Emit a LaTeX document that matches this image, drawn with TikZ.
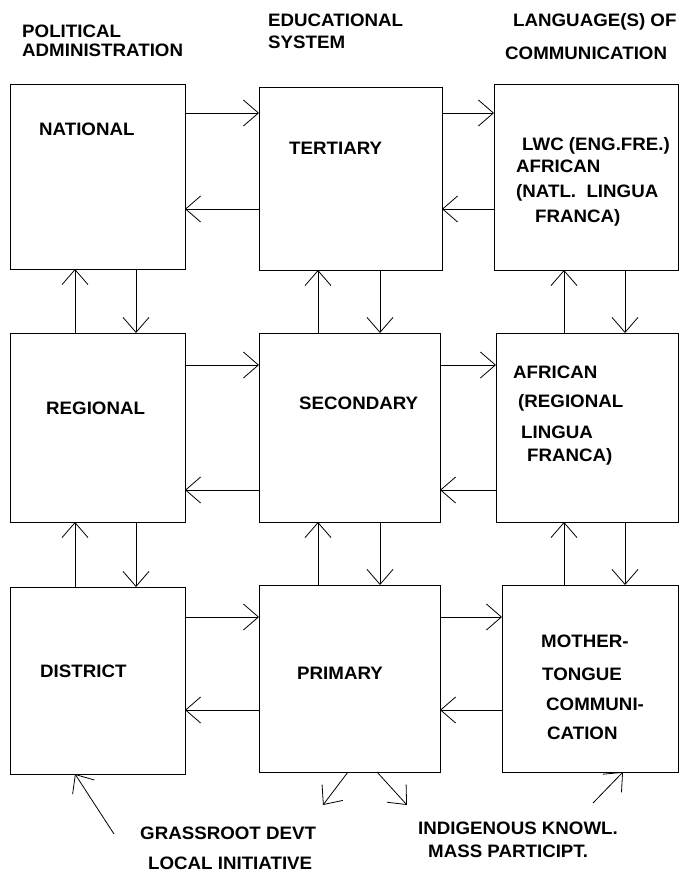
\documentclass[tikz,border=0pt]{standalone}
\usepackage{fontspec}
\newfontfamily\lblfont{Liberation Sans}[FakeStretch=1.04]
\usetikzlibrary{arrows.meta}
\begin{document}
\begin{tikzpicture}[x=1pt,y=-1pt,
  box/.style={draw, line width=0.9pt, inner sep=0pt, outer sep=0pt, anchor=north west},
  lbl/.style={inner sep=0pt, anchor=base west, font=\lblfont\bfseries\fontsize{18}{21}\selectfont},
  arr/.style={line width=0.8pt, -{Straight Barb[length=15pt,width=26pt,line width=0.8pt]}}]
\useasboundingbox (0,0) rectangle (688,878);
    \newcommand{\myBox}[5]{
        \node[box, minimum width=#4pt, minimum height=#5pt] (#1) at (#2,#3) {};
    }
% headers
\node[lbl] (polA) at (22,37) {POLITICAL};
\node[lbl] (polB) at (22,56) {ADMINISTRATION};
\node[lbl] (eduA) at (268,26) {EDUCATIONAL};
\node[lbl] (eduB) at (268,48) {SYSTEM};
\node[lbl] (lanA) at (513,27) {LANGUAGE(S) OF};
\node[lbl] (lanB) at (505,59) {COMMUNICATION};
% boxes
\myBox{nat}{10}{84}{175}{185}
\myBox{ter}{259}{87}{183}{183}
\myBox{lng}{494}{84}{184}{186}
\myBox{reg}{10}{333}{175}{189}
\myBox{sec}{259}{333}{181}{189}
\myBox{afr}{496}{333}{182}{189}
\myBox{dis}{10}{587}{175}{187}
\myBox{pri}{259}{585}{181}{187}
\myBox{mot}{502}{585}{176}{187}
% box texts
\node[lbl] (natT) at (39,135) {NATIONAL};
\node[lbl] (terT) at (289,154) {TERTIARY};
\node[lbl] (lngA) at (522,150) {LWC (ENG.FRE.)};
\node[lbl] (lngB) at (516,172) {AFRICAN};
\node[lbl] (lngC) at (516,197) {(NATL.~~LINGUA};
\node[lbl] (lngD) at (535,222) {FRANCA)};
\node[lbl] (regT) at (46,414) {REGIONAL};
\node[lbl] (secT) at (299,409) {SECONDARY};
\node[lbl] (afrA) at (513,378) {AFRICAN};
\node[lbl] (afrB) at (518,407) {(REGIONAL};
\node[lbl] (afrC) at (521,438) {LINGUA};
\node[lbl] (afrD) at (527,461) {FRANCA)};
\node[lbl] (disT) at (40,677) {DISTRICT};
\node[lbl] (priT) at (297,679) {PRIMARY};
\node[lbl] (motA) at (541,647) {MOTHER-};
\node[lbl] (motB) at (542,680) {TONGUE};
\node[lbl] (motC) at (546,710) {COMMUNI-};
\node[lbl] (motD) at (547,739) {CATION};
% bottom texts
\node[lbl] (grsA) at (140,839) {GRASSROOT DEVT};
\node[lbl] (grsB) at (148,869) {LOCAL INITIATIVE};
\node[lbl] (indA) at (418,834) {INDIGENOUS KNOWL.};
\node[lbl] (indB) at (428,857) {MASS PARTICIPT.};
% across
\draw[arr] (nat.east |- 0,113) -- (ter.west |- 0,113);
\draw[arr] (ter.east |- 0,113) -- (lng.west |- 0,113);
\draw[arr] (ter.west |- 0,209) -- (nat.east |- 0,209);
\draw[arr] (lng.west |- 0,209) -- (ter.east |- 0,209);
\draw[arr] (reg.east |- 0,365) -- (sec.west |- 0,365);
\draw[arr] (sec.east |- 0,365) -- (afr.west |- 0,365);
\draw[arr] (sec.west |- 0,490) -- (reg.east |- 0,490);
\draw[arr] (afr.west |- 0,490) -- (sec.east |- 0,490);
\draw[arr] (dis.east |- 0,617) -- (pri.west |- 0,617);
\draw[arr] (pri.east |- 0,617) -- (mot.west |- 0,617);
\draw[arr] (pri.west |- 0,710) -- (dis.east |- 0,710);
\draw[arr] (mot.west |- 0,710) -- (pri.east |- 0,710);
% up and down
\draw[arr] (reg.north -| 75,0) -- (nat.south -| 75,0);
\draw[arr] (nat.south -| 136,0) -- (reg.north -| 136,0);
\draw[arr] (sec.north -| 318,0) -- (ter.south -| 318,0);
\draw[arr] (ter.south -| 380,0) -- (sec.north -| 380,0);
\draw[arr] (afr.north -| 564,0) -- (lng.south -| 564,0);
\draw[arr] (lng.south -| 625,0) -- (afr.north -| 625,0);
\draw[arr] (dis.north -| 75,0) -- (reg.south -| 75,0);
\draw[arr] (reg.south -| 136,0) -- (dis.north -| 136,0);
\draw[arr] (pri.north -| 318,0) -- (sec.south -| 318,0);
\draw[arr] (sec.south -| 380,0) -- (pri.north -| 380,0);
\draw[arr] (mot.north -| 564,0) -- (afr.south -| 564,0);
\draw[arr] (afr.south -| 625,0) -- (mot.north -| 625,0);
% bottom
\coordinate (grs) at (114,834);
\coordinate (outL) at (323,805);
\coordinate (outR) at (407,805);
\coordinate (ind) at (593,803);
\draw[arr] (grs) -- (dis.south -| 75,0);
\draw[arr] (pri.south -| 348,0) -- (outL);
\draw[arr] (pri.south -| 377,0) -- (outR);
\draw[arr] (ind) -- (mot.south -| 623,0);
\end{tikzpicture}
\end{document}
